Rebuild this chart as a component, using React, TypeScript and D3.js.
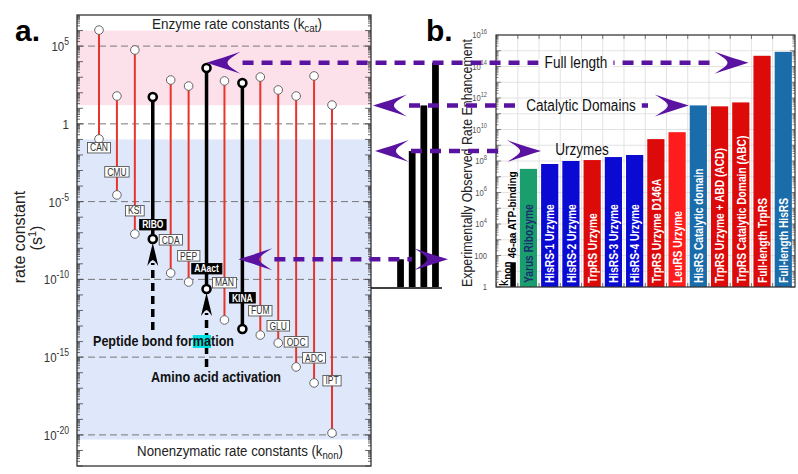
import React, { useEffect, useRef } from 'react';
import * as d3 from 'd3';

const W = 798;
const H = 474;
const FONT = "Arial, 'Liberation Sans', sans-serif";
const PURPLE = '#5a12a0';
const K = 0.85; // the source figure is horizontally condensed

// ---- panel a: enzyme vs nonenzymatic rate constants (log10 s^-1)
const enzymes = ['CAN', 'CMU', 'KSI', 'RIBO', 'CDA', 'PEP', 'AAact', 'MAN', 'KINA', 'FUM', 'GLU', 'ODC', 'ADC', 'IPT'];
const logKcat = [6.03, 1.79, 4.75, 1.73, 2.82, 2.43, 3.59, 2.76, 2.63, 3.01, 2.18, 1.79, 3.08, 1.21];
const logKnon = [-0.97, -4.57, -7.08, -7.4, -9.59, -10.17, -10.62, -12.61, -13.19, -13.58, -14.09, -15.63, -16.66, -19.88];
const labelAt = [-1.55, -3.1, -5.6, -6.5, -7.47, -8.5, -9.33, -10.23, -11.2, -12.03, -13.0, -14.03, -15.06, -16.53];
const boldEnzymes = ['RIBO', 'AAact', 'KINA'];
const yTicksA = [5, 0, -5, -10, -15, -20];
const enzymeBand = [6, 1.2];
const nonEnzBand = [-1, -20.3];

// ---- panel b: experimentally observed rate enhancement (log10)
const constructs = [
  '46-aa ATP-binding', 'Yarus Ribozyme', 'HisRS-1 Urzyme', 'HisRS-2 Urzyme', 'TrpRS Urzyme',
  'HisRS-3 Urzyme', 'HisRS-4 Urzyme', 'TrpRS Urzyme D146A', 'LeuRS Urzyme', 'HisRS Catalytic domain',
  'TrpRS Urzyme + ABD (ACD)', 'TrpRS Catalytic Domain (ABC)', 'Full-length TrpRS', 'Full-length HisRS',
];
const logEnh = [1.57, 7.5, 7.81, 8.0, 8.06, 8.25, 8.38, 9.39, 9.83, 11.53, 11.47, 11.72, 14.68, 14.93];
const barColors = ['#000', '#1b9e6e', '#0a0ad2', '#0a0ad2', '#dd0a0a', '#0a0ad2', '#0a0ad2', '#dd0a0a',
  '#ff1c1c', '#1a6caa', '#dd0a0a', '#dd0a0a', '#dd0a0a', '#1a6caa'];
const yTicksB = [16, 14, 12, 10, 8, 6, 4, 2, 0];

// summary levels (log10, panel b scale)
const groups = ['kcat/knon', 'Urzymes', 'Catalytic Domains', 'Full length'];
const groupLevels = [1.76, 8.63, 11.53, 14.24];

function squeeze(sel: any, k: number) {
  const len = (sel.node() as SVGTextElement).getComputedTextLength();
  sel.attr('textLength', len * k).attr('lengthAdjust', 'spacingAndGlyphs');
  return sel;
}
function fitTo(sel: any, w: number) {
  sel.attr('textLength', w).attr('lengthAdjust', 'spacingAndGlyphs');
  return sel;
}
// text with tspans: condense with a group transform instead of textLength
function condensed(parent: any, x: number, y: number, k: number | null, target?: number) {
  const g = parent.append('g').attr('transform', `translate(${x},${y})`);
  const t = g.append('text').attr('x', 0).attr('y', 0);
  return {
    t,
    done: () => {
      const len = (t.node() as SVGTextElement).getComputedTextLength();
      const s = target ? target / len : (k as number);
      g.attr('transform', `translate(${x},${y}) scale(${s},1)`);
    },
  };
}
function supText(sel: any, base: string, exp: string, size: number) {
  sel.append('tspan').text(base);
  sel.append('tspan').attr('dy', -size * 0.45).attr('font-size', size * 0.75).text(exp);
}

const HEAD = 'M0,0 C10,-3 22,-7 34,-11 C26,-6 21,-3 21,0 C21,3 26,6 34,11 C22,7 10,3 0,0 Z';
function arrowLeft(g: any, x: number, y: number, color: string) {
  g.append('path').attr('transform', `translate(${x},${y})`).attr('d', HEAD).attr('fill', color);
}
function arrowRight(g: any, x: number, y: number, color: string) {
  g.append('path').attr('transform', `translate(${x},${y}) scale(-1,1)`).attr('d', HEAD).attr('fill', color);
}
function arrowUp(g: any, x: number, y: number) {
  g.append('path')
    .attr('transform', `translate(${x},${y})`)
    .attr('d', 'M0,0 C2,8 4,16 5.5,23 C3,19 1,17 0,17 C-1,17 -3,19 -5.5,23 C-4,16 -2,8 0,0 Z')
    .attr('fill', '#000');
}

const App: React.FC = () => {
  const svgRef = useRef<SVGSVGElement>(null);

  useEffect(() => {
    if (!svgRef.current) return;
    const svg = d3.select(svgRef.current);
    svg.selectAll('*').remove();
    svg.attr('font-family', FONT);

    // ================= panel a =================
    const fa = { l: 77, r: 371, t: 15, b: 466 };
    const yA = d3.scaleLinear().domain([-22, 7]).range([fa.b, fa.t]);
    const xA = d3.scalePoint<string>().domain(enzymes).range([99, 332]);
    const a = svg.append('g');

    a.append('rect').attr('x', fa.l).attr('y', fa.t).attr('width', fa.r - fa.l).attr('height', fa.b - fa.t).attr('fill', '#fff');
    a.append('rect').attr('x', fa.l).attr('width', fa.r - fa.l)
      .attr('y', yA(enzymeBand[0])).attr('height', yA(enzymeBand[1]) - yA(enzymeBand[0])).attr('fill', '#fde1ea');
    a.append('rect').attr('x', fa.l).attr('width', fa.r - fa.l)
      .attr('y', yA(nonEnzBand[0])).attr('height', yA(nonEnzBand[1]) - yA(nonEnzBand[0])).attr('fill', '#dfe8fb');

    yTicksA.forEach(t => {
      a.append('line').attr('x1', fa.l).attr('x2', fa.r).attr('y1', yA(t)).attr('y2', yA(t))
        .attr('stroke', '#777').attr('stroke-width', 1).attr('stroke-dasharray', '7,4');
      const c = condensed(a, 69, yA(t) + 5, K);
      c.t.attr('text-anchor', 'end').attr('font-size', 13.5).attr('fill', '#333');
      if (t === 0) c.t.text('1');
      else supText(c.t, '10', String(t), 13.5);
      c.done();
    });

    // log ticks on both sides
    for (let d = -22; d < 7; d++) {
      for (let m = 1; m <= 9; m++) {
        const v = d + Math.log10(m);
        const len = m === 1 ? 6 : 3;
        [[fa.l, 1], [fa.r, -1]].forEach(([x0, s]) => {
          a.append('line').attr('x1', x0).attr('x2', x0 + s * len).attr('y1', yA(v)).attr('y2', yA(v))
            .attr('stroke', '#444').attr('stroke-width', 0.8);
        });
      }
    }
    a.append('rect').attr('x', fa.l).attr('y', fa.t).attr('width', fa.r - fa.l).attr('height', fa.b - fa.t)
      .attr('fill', 'none').attr('stroke', '#333').attr('stroke-width', 1.3);

    // header texts
    const h1 = condensed(a, 237, 29, null, 170);
    h1.t.attr('text-anchor', 'middle').attr('font-size', 14.5).attr('fill', '#222');
    h1.t.append('tspan').text('Enzyme rate constants (k');
    h1.t.append('tspan').attr('dy', 3).attr('font-size', 10.5).text('cat');
    h1.t.append('tspan').attr('dy', -3).text(')');
    h1.done();
    const h2 = condensed(a, 240, 456, null, 206);
    h2.t.attr('text-anchor', 'middle').attr('font-size', 14.5).attr('fill', '#222');
    h2.t.append('tspan').text('Nonenzymatic rate constants (k');
    h2.t.append('tspan').attr('dy', 3).attr('font-size', 10.5).text('non');
    h2.t.append('tspan').attr('dy', -3).text(')');
    h2.done();

    // vertical stems
    enzymes.forEach((e, i) => {
      const bold = boldEnzymes.includes(e);
      a.append('line').attr('x1', xA(e)!).attr('x2', xA(e)!).attr('y1', yA(logKcat[i])).attr('y2', yA(logKnon[i]))
        .attr('stroke', bold ? '#000' : '#e8352b').attr('stroke-width', bold ? 3.5 : 2);
    });
    enzymes.forEach((e, i) => {
      const bold = boldEnzymes.includes(e);
      [logKcat[i], logKnon[i]].forEach(v => {
        a.append('circle').attr('cx', xA(e)!).attr('cy', yA(v)).attr('r', bold ? 4 : 4.3)
          .attr('fill', '#fff').attr('stroke', bold ? '#000' : '#666').attr('stroke-width', bold ? 2.6 : 1);
      });
    });
    enzymes.forEach((e, i) => {
      const bold = boldEnzymes.includes(e);
      const lg = a.append('g');
      const tx = lg.append('text').attr('x', xA(e)!).attr('y', yA(labelAt[i]) + 3.5).attr('text-anchor', 'middle')
        .attr('font-size', 10).attr('font-weight', bold ? 'bold' : 'normal').attr('fill', bold ? '#fff' : '#333').text(e);
      squeeze(tx, K);
      const bb = (tx.node() as SVGTextElement).getBBox();
      lg.insert('rect', 'text').attr('x', bb.x - 2.5).attr('y', bb.y).attr('width', bb.width + 5).attr('height', bb.height - 0.5)
        .attr('fill', bold ? '#000' : '#fff').attr('stroke', bold ? '#000' : '#555').attr('stroke-width', 0.9);
    });

    // black dashed arrows
    const arr = [
      { at: 'RIBO', from: -13.26, to: -7.66 },
      { at: 'AAact', from: -15.63, to: -10.88 },
    ];
    arr.forEach(d => {
      const x = xA(d.at)!;
      a.append('line').attr('x1', x).attr('x2', x).attr('y1', yA(d.from)).attr('y2', yA(d.to) + 20)
        .attr('stroke', '#000').attr('stroke-width', 3.5).attr('stroke-dasharray', '8,5');
      arrowUp(a, x, yA(d.to));
    });

    const pep = a.append('text').attr('x', 93).attr('y', 346).attr('font-size', 14.5).attr('font-weight', 'bold').attr('fill', '#111');
    pep.text('Peptide bond formation');
    fitTo(pep, 141);
    const pn = pep.node() as SVGTextElement;
    const s0 = pn.getStartPositionOfChar(16).x;
    const s1 = pn.getEndPositionOfChar(17).x;
    a.insert('rect', () => pn).attr('x', s0).attr('y', 335).attr('width', s1 - s0).attr('height', 13).attr('fill', '#00e2e2');
    const aa = a.append('text').attr('x', 151).attr('y', 382).attr('font-size', 14.5).attr('font-weight', 'bold').attr('fill', '#111')
      .text('Amino acid activation');
    fitTo(aa, 130);

    // axis title and panel letter
    a.append('text').attr('transform', 'translate(25,237) rotate(-90)').attr('text-anchor', 'middle')
      .attr('font-size', 16).attr('fill', '#222').text('rate constant');
    const su = a.append('text').attr('transform', 'translate(42,238) rotate(-90)').attr('text-anchor', 'middle')
      .attr('font-size', 16).attr('fill', '#222');
    su.append('tspan').text('(s');
    su.append('tspan').attr('dy', -6).attr('font-size', 11).text('1');
    su.append('tspan').attr('dy', 6).text(')');
    svg.append('text').attr('x', 15).attr('y', 41).attr('font-size', 30).attr('font-weight', 'bold').text('a.');

    // ================= panel b =================
    const fb = { l: 496, r: 795, t: 35, b: 287 };
    const yB = d3.scaleLinear().domain([0, 16]).range([fb.b, fb.t]);
    const xB = d3.scaleBand<string>().domain(constructs).range([496.5, 794]).paddingInner(0.19).paddingOuter(0.1);
    const b = svg.append('g');

    // grid
    for (let d = 0; d <= 16; d++) {
      b.append('line').attr('x1', fb.l).attr('x2', fb.r).attr('y1', yB(d)).attr('y2', yB(d))
        .attr('stroke', '#dcdcdc').attr('stroke-width', 0.8);
    }
    constructs.forEach(c => {
      const x = xB(c)! - (xB.step() - xB.bandwidth()) / 2;
      b.append('line').attr('x1', x).attr('x2', x).attr('y1', fb.t).attr('y2', fb.b)
        .attr('stroke', '#dcdcdc').attr('stroke-width', 0.8);
      [[fb.t, 1], [fb.b, -1]].forEach(([y0, s]) => {
        b.append('line').attr('x1', x).attr('x2', x).attr('y1', y0).attr('y2', y0 + s * 4).attr('stroke', '#555').attr('stroke-width', 0.8);
      });
    });
    for (let d = 0; d < 16; d++) {
      for (let m = 1; m <= 9; m++) {
        const v = d + Math.log10(m);
        const len = m === 1 ? 5 : 2.5;
        [[fb.l, 1], [fb.r, -1]].forEach(([x0, s]) => {
          b.append('line').attr('x1', x0).attr('x2', x0 + s * len).attr('y1', yB(v)).attr('y2', yB(v))
            .attr('stroke', '#555').attr('stroke-width', 0.7);
        });
      }
    }

    // bars
    constructs.forEach((c, i) => {
      if (i === 0) {
        b.append('rect').attr('x', xB(c)! + xB.bandwidth() - 5.5).attr('y', yB(logEnh[i])).attr('width', 5.5)
          .attr('height', yB(0) - yB(logEnh[i])).attr('fill', '#000');
        return;
      }
      b.append('rect').attr('x', xB(c)!).attr('y', yB(logEnh[i])).attr('width', xB.bandwidth())
        .attr('height', yB(0) - yB(logEnh[i])).attr('fill', barColors[i]);
    });
    constructs.forEach((c, i) => {
      const cx = xB(c)! + xB.bandwidth() / 2;
      if (i === 0) {
        const t0 = b.append('text').attr('transform', `translate(${xB(c)! + xB.bandwidth() + 0.5},${yB(logEnh[0]) - 4}) rotate(-90)`)
          .attr('font-size', 11.5).attr('font-weight', 'bold').attr('fill', '#000').text(c);
        fitTo(t0, 87);
        const kn = b.append('text').attr('transform', `translate(${xB(c)! + 9},${fb.b - 1}) rotate(-90)`)
          .attr('font-size', 12.5).attr('fill', '#000');
        kn.append('tspan').text('k');
        kn.append('tspan').attr('dy', 3).attr('font-size', 10).attr('font-weight', 'bold').text('non');
        return;
      }
      const t = b.append('text').attr('transform', `translate(${cx + 4.8},${fb.b - 4}) rotate(-90)`)
        .attr('font-size', 12).attr('font-weight', 'bold').attr('fill', i === 1 ? '#1b2f6e' : '#fff').text(c);
      squeeze(t, K);
    });

    b.append('rect').attr('x', fb.l).attr('y', fb.t).attr('width', fb.r - fb.l).attr('height', fb.b - fb.t)
      .attr('fill', 'none').attr('stroke', '#333').attr('stroke-width', 1.2);

    yTicksB.forEach(t => {
      const c = condensed(b, 487, yB(t) + 3, K);
      c.t.attr('text-anchor', 'end').attr('font-size', 9).attr('fill', '#555');
      if (t === 0) c.t.text('1');
      else if (t === 2) c.t.text('100');
      else supText(c.t, '10', String(t), 9);
      c.done();
    });
    const yl = b.append('text').attr('transform', 'translate(472,163) rotate(-90)').attr('text-anchor', 'middle')
      .attr('font-size', 15).attr('fill', '#222').text('Experimentally Observed Rate Enhancement');
    fitTo(yl, 248);
    svg.append('text').attr('x', 426).attr('y', 41).attr('font-size', 30).attr('font-weight', 'bold').text('b.');

    // ---- summary black bars between panels
    const xM = d3.scaleBand<string>().domain(groups).range([396, 440]).paddingInner(0.42).paddingOuter(0.1);
    const m = svg.append('g');
    groups.forEach((g, i) => {
      m.append('rect').attr('x', xM(g)!).attr('y', yB(groupLevels[i])).attr('width', xM.bandwidth())
        .attr('height', yB(0) - yB(groupLevels[i])).attr('fill', '#000');
    });
    m.append('line').attr('x1', fa.r).attr('x2', 442).attr('y1', yB(0) + 1).attr('y2', yB(0) + 1)
      .attr('stroke', '#000').attr('stroke-width', 1.5);

    // ---- purple dashed connectors
    const conn = [
      { level: groupLevels[3], left: xA('AAact')!, right: xB('Full-length TrpRS')! - 5, label: 'Full length', lx: 576, onLine: true },
      { level: groupLevels[2], left: fa.r + 2, right: xB('HisRS Catalytic domain')! - 1, label: 'Catalytic Domains', lx: 581, onLine: true },
      { level: groupLevels[1], left: fa.r + 4, right: xB('HisRS-1 Urzyme')!, label: 'Urzymes', lx: 582, onLine: false },
      { level: groupLevels[0], left: xA('KINA')! - 4, right: 448, label: '', lx: 0, onLine: false },
    ];
    const p = svg.append('g');
    conn.forEach(c => {
      const y = yB(c.level);
      p.append('line').attr('x1', c.left + 36).attr('x2', c.right - 36).attr('y1', y).attr('y2', y)
        .attr('stroke', PURPLE).attr('stroke-width', 4.5).attr('stroke-dasharray', '11,8');
      arrowLeft(p, c.left, y, PURPLE);
      arrowRight(p, c.right, y, PURPLE);
      if (c.label) {
        const t = p.append('text').attr('x', c.lx).attr('y', (c.onLine ? y : y - 2) + 5.5).attr('text-anchor', 'middle')
          .attr('font-size', 16).attr('fill', '#111').text(c.label);
        squeeze(t, K);
        if (c.onLine) {
          const bb = (t.node() as SVGTextElement).getBBox();
          p.insert('rect', () => t.node()).attr('x', bb.x - 6).attr('y', y - 4).attr('width', bb.width + 12).attr('height', 8).attr('fill', '#fff');
        }
      }
    });
  }, []);

  return (
    <svg ref={svgRef} width={W} height={H} style={{ position: 'absolute', left: 0, top: 0, background: '#fff' }} />
  );
};

export default App;
